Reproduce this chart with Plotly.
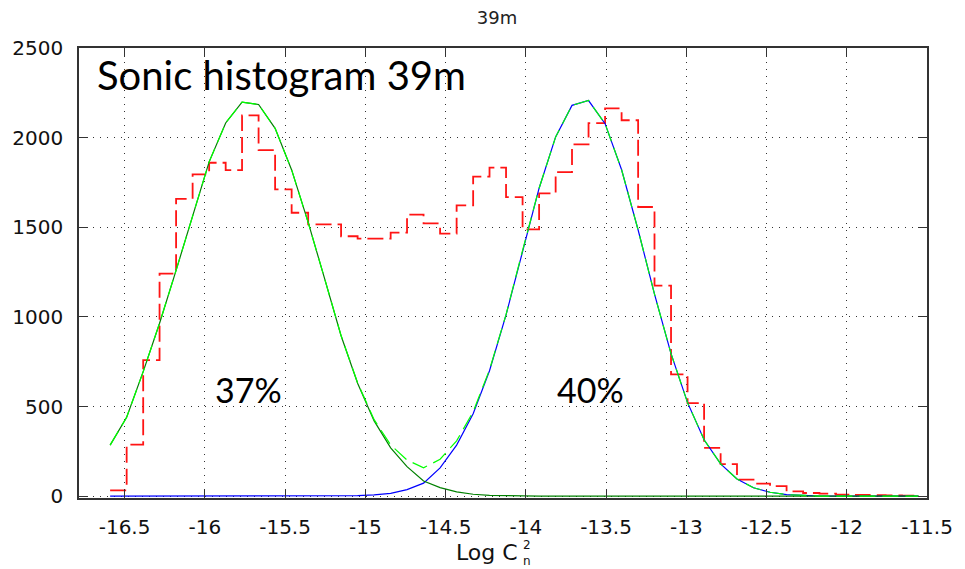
import plotly.graph_objects as go

# ---------------- data ----------------
# histogram bin edges (Log Cn^2)
bin_edges = [-16.590, -16.487, -16.384, -16.282, -16.179, -16.076, -15.973, -15.870,
             -15.768, -15.665, -15.562, -15.459, -15.356, -15.254, -15.151, -15.048,
             -14.945, -14.842, -14.740, -14.637, -14.534, -14.431, -14.328, -14.226,
             -14.123, -14.020, -13.917, -13.814, -13.712, -13.609, -13.506, -13.403,
             -13.300, -13.198, -13.095, -12.992, -12.889, -12.786, -12.684, -12.581,
             -12.478, -12.375, -12.272, -12.170, -12.067, -11.964, -11.861, -11.758,
             -11.656, -11.553]

# sonic histogram counts (one per bin)
hist_counts = [33, 288, 759, 1242, 1659, 1795, 1860, 1819, 2124, 1930,
               1711, 1581, 1516, 1516, 1450, 1437, 1437, 1470, 1571, 1522,
               1465, 1622, 1783, 1833, 1668, 1488, 1689, 1808, 1962, 2081,
               2163, 2097, 1613, 1175, 679, 519, 270, 179, 93, 70,
               56, 27, 18, 14, 9, 7, 6, 4, 3]

# fitted gaussian 1 (dark green), evaluated at the bin edges
gauss1 = [285, 440, 695, 965, 1260, 1565, 1865, 2082, 2198, 2185,
          2052, 1820, 1527, 1215, 895, 630, 420, 270, 165, 85,
          48, 24, 11, 5, 2, 1, 0, 0, 0, 0,
          0, 0, 0, 0, 0, 0, 0, 0, 0, 0,
          0, 0, 0, 0, 0, 0, 0, 0, 0, 0]

# fitted gaussian 2 (blue), evaluated at the bin edges
gauss2 = [0, 0, 0, 0, 0, 0, 0, 0, 0, 0,
          0, 0, 0, 0, 1, 3, 7, 16, 37, 73,
          158, 285, 460, 700, 1011, 1370, 1718, 2004, 2180, 2207,
          2078, 1821, 1485, 1127, 795, 522, 315, 180, 96, 47,
          22, 9, 4, 1, 0, 0, 0, 0, 0, 0]

# sum of the two gaussians (bright green dashed)
gauss_sum = [285, 440, 695, 965, 1260, 1565, 1865, 2082, 2198, 2185,
             2052, 1820, 1527, 1215, 896, 633, 427, 286, 202, 158,
             206, 309, 471, 705, 1013, 1371, 1718, 2004, 2180, 2207,
             2078, 1821, 1485, 1127, 795, 522, 315, 180, 96, 47,
             22, 9, 4, 1, 0, 0, 0, 0, 0, 0]

x_tick_vals = [-16.5, -16.0, -15.5, -15.0, -14.5, -14.0, -13.5, -13.0, -12.5, -12.0, -11.5]
x_tick_text = ["-16.5", "-16", "-15.5", "-15", "-14.5", "-14", "-13.5", "-13", "-12.5", "-12", "-11.5"]
y_tick_vals = [0, 500, 1000, 1500, 2000, 2500]
y_tick_text = ["0", "500", "1000", "1500", "2000", "2500"]

mode_labels = ["37%", "40%"]
mode_label_x = [-15.729, -13.594]
mode_label_y = [598, 598]

# ---------------- figure ----------------
fig = go.Figure()

fig.add_trace(go.Scatter(
    x=bin_edges, y=hist_counts + [hist_counts[-1]],
    mode="lines", line=dict(color="rgb(255,20,20)", width=1.8, dash="16px,6px", shape="hv"),
    hoverinfo="skip"))
fig.add_trace(go.Scatter(
    x=bin_edges, y=gauss2, mode="lines",
    line=dict(color="rgb(0,0,255)", width=1.2), hoverinfo="skip"))
fig.add_trace(go.Scatter(
    x=bin_edges, y=gauss1, mode="lines",
    line=dict(color="rgb(0,128,0)", width=1.2), hoverinfo="skip"))
fig.add_trace(go.Scatter(
    x=bin_edges, y=gauss_sum, mode="lines",
    line=dict(color="rgb(0,255,0)", width=1.2, dash="16px,7px"), hoverinfo="skip"))

axis_common = dict(
    ticks="inside", ticklen=9, tickwidth=1, tickcolor="#333",
    showline=True, linecolor="#333", linewidth=1.5, mirror="ticks",
    showgrid=True, gridcolor="#333", gridwidth=1, griddash="1px,6px",
    zeroline=False, ticklabelstandoff=10,
    tickfont=dict(family="DejaVu Sans", size=20, color="#111"),
)

fig.update_xaxes(range=[-16.784, -11.5], tickmode="array",
                 tickvals=x_tick_vals, ticktext=x_tick_text, **axis_common)
fig.update_yaxes(range=[-10, 2500], tickmode="array",
                 tickvals=y_tick_vals, ticktext=y_tick_text, **axis_common)

annotations = [
    dict(text="Sonic histogram 39m", xref="paper", yref="paper", x=0.0186, y=0.94,
         xanchor="left", yanchor="middle", showarrow=False,
         font=dict(family="Lato", size=40, color="black")),
    dict(text="Log C", xref="paper", yref="paper", x=(524 - 77) / 861, y=-0.1222,
         xanchor="right", yanchor="middle", showarrow=False, borderpad=0,
         font=dict(family="DejaVu Sans", size=22, color="#111")),
    dict(text="2<br>n", xref="paper", yref="paper", x=(527 - 77) / 861, y=-0.1222,
         xanchor="left", yanchor="middle", showarrow=False, borderpad=0,
         font=dict(family="DejaVu Sans", size=12, color="#111")),
]
for txt, xv, yv in zip(mode_labels, mode_label_x, mode_label_y):
    annotations.append(dict(text=txt, x=xv, y=yv, xref="x", yref="y",
                            xanchor="center", yanchor="middle", showarrow=False,
                            font=dict(family="Lato", size=34, color="black")))

fig.update_layout(
    width=965, height=569,
    margin=dict(l=77, r=27, t=48, b=71),
    paper_bgcolor="white", plot_bgcolor="white",
    showlegend=False,
    title=dict(text="39m", x=0.515, xanchor="center", xref="container",
               y=1 - 18 / 569, yanchor="middle", yref="container",
               font=dict(family="DejaVu Sans", size=18, color="#222")),
    annotations=annotations,
)

fig.write_html("out.html")
